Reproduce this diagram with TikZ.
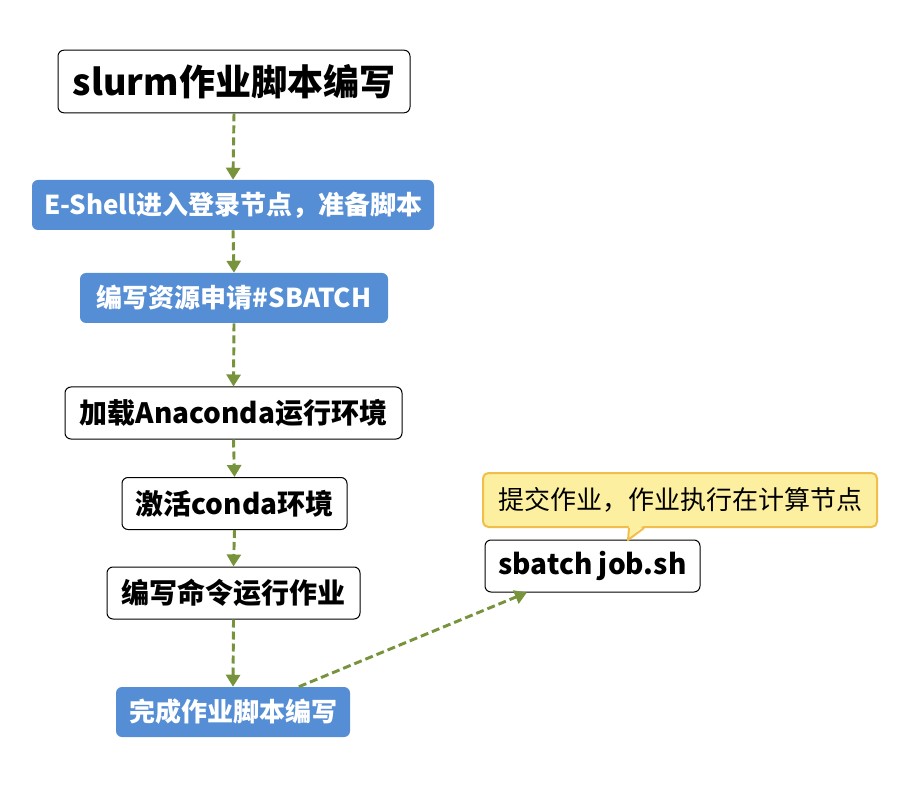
\documentclass[tikz,border=0pt]{standalone}
\usepackage{fontspec}
\setmainfont{Noto Sans CJK SC}
\usepackage{xcolor}
\usetikzlibrary{arrows.meta,calc}

\definecolor{stepblue}{HTML}{558ED5}
\definecolor{flowgreen}{HTML}{77933C}
\definecolor{notefill}{HTML}{FCEF9F}
\definecolor{noteline}{HTML}{F2BE4B}

\tikzset{
    stepbox/.style={
        draw=black,
        fill=white,
        line width=0.75pt,
        rounded corners=4.5pt,
        minimum height=39pt,
        inner xsep=0pt,
        align=center,
        font=\fontsize{21}{25}\selectfont\bfseries
    },
    bluebox/.style={
        fill=stepblue,
        text=white,
        rounded corners=4.5pt,
        minimum height=37.5pt,
        inner xsep=0pt,
        align=center,
        font=\fontsize{19.5}{23}\selectfont\bfseries
    },
    flow/.style={
        draw=flowgreen,
        line width=2.2pt,
        dash pattern=on 6pt off 3pt,
        -{Triangle[width=10.5pt,length=9pt,fill=flowgreen]}
    }
}

\begin{document}
\begin{tikzpicture}[x=0.75pt,y=-0.75pt]

\useasboundingbox (0,0) rectangle (902,787);

\node[
    stepbox,
    minimum width=264pt,
    minimum height=47pt,
    font=\fontsize{27}{31}\selectfont\bfseries
] (title) at (234,81.5)
{slurm作业脚本编写};

\node[bluebox, minimum width=301.5pt] (shell) at (233,205)
{E-Shell进入登录节点，准备脚本};

\node[bluebox, minimum width=231pt] (request) at (234,298)
{编写资源申请\#SBATCH};

\node[stepbox, minimum width=252.75pt] (anaconda) at (233.5,413)
{加载Anaconda运行环境};

\node[stepbox, minimum width=168.75pt] (activate) at (234.5,503.5)
{激活conda环境};

\node[stepbox, minimum width=189.75pt] (command) at (233.5,593)
{编写命令运行作业};

\node[bluebox, minimum width=175.5pt] (finish) at (233,712)
{完成作业脚本编写};

\node[stepbox, minimum width=161.25pt] (submit) at (592.5,566)
{sbatch job.sh};

% callout above the submit box
\node[
    draw=noteline,
    fill=notefill,
    line width=1.5pt,
    rounded corners=4pt,
    minimum width=295.5pt,
    minimum height=40.5pt,
    font=\fontsize{19.5}{23}\selectfont
] (note) at (680,500)
{提交作业，作业执行在计算节点};

\coordinate (pointer) at (628,540);
\fill[notefill] ($(note.south west)+(147,-3)$) -- (pointer) -- ($(note.south west)+(162,-3)$) -- cycle;
\draw[noteline, line width=1.5pt, line join=round]
    ($(note.south west)+(147,0)$) -- (pointer) -- ($(note.south west)+(162,0)$);

% flow
\draw[flow] (title.south) -- (shell.north);
\draw[flow] (shell.south) -- (request.north);
\draw[flow] (request.south) -- (anaconda.north);
\draw[flow] (anaconda.south) -- (activate.north);
\draw[flow] (activate.south) -- (command.north);
\draw[flow] (command.south) -- (finish.north);
\draw[flow] (finish.21) -- (submit.202);

\end{tikzpicture}
\end{document}
